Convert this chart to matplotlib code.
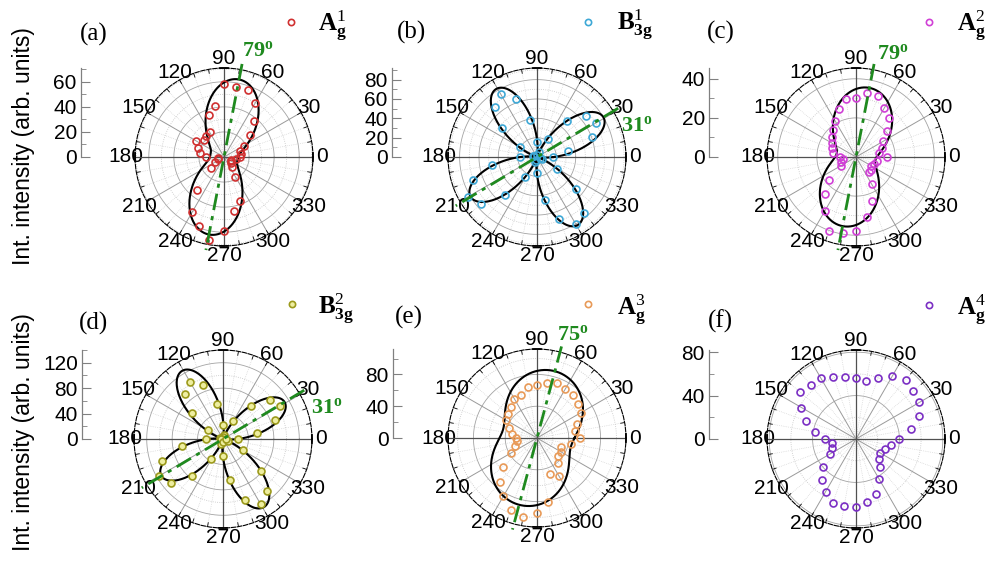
import numpy as np
import matplotlib.pyplot as plt
from matplotlib.ticker import FixedLocator, MultipleLocator

plt.rcParams['font.family'] = ['Liberation Sans', 'DejaVu Sans']
plt.rcParams['mathtext.fontset'] = 'custom'
plt.rcParams['mathtext.rm'] = 'Liberation Serif'
plt.rcParams['mathtext.bf'] = 'Liberation Serif:bold'
plt.rcParams['mathtext.it'] = 'Liberation Serif:italic'

# polarisation angle of the measured points (deg)
angles = np.arange(0, 360, 10)

# integrated intensities, one value per angle
int_a = [13, 14, 14, 18, 27, 37, 50, 57, 57, 58, 41, 36, 23, 22, 21, 26, 22, 19.5,
         14.6, 4.6, 5, 8, 14, 34, 51, 59, 67, 59, 44, 37, 18, 10, 7, 6, 6, 9.5]
int_b = [17, 33, 61, 71, 66, 48, 22, 5, 2, 16, 39, 64, 75, 68, 47, 20, 4, 3,
         18, 47, 70, 82, 75, 51, 24, 6, 3, 17, 45, 68, 80, 75, 52, 24, 5, 3]
int_c = [16, 12, 14, 16, 21, 26, 29, 33, 33, 30, 30, 26, 21, 18, 16, 14, 13, 12,
         8, 7, 8, 9, 18, 25, 32, 40, 39.5, 38, 31, 24, 16, 10, 10, 9, 10, 11]
int_d = [24, 55, 87, 103, 96, 68, 33, 6, 3, 22, 56, 90, 104, 93, 63, 28, 5, 3,
         26, 66, 102, 116, 107, 76, 37, 8, 4, 27, 66, 102, 118, 107, 78, 36, 8, 4]
int_e = [54, 48, 53, 64, 67, 70, 71, 73, 70, 67, 65, 58, 57, 51, 47, 45, 38, 32,
         27, 25, 30, 38, 56, 73, 85, 96, 101, 95, 82, 48, 55, 41, 35, 35, 32, 43]
int_f = [40, 51, 62, 67.5, 69, 71, 67, 60, 54, 56, 58, 61, 65, 65, 67, 58, 49, 38,
         29, 22, 24, 28, 40, 49, 56, 63, 63, 63, 59, 54, 43, 34, 28, 26, 28, 33]

# fit parameters: orientation angle, |a|^2, |c|^2, cross term
fit_a = (79, 63, 11, 14)
fit_b = (31, 80, 82, -81)
fit_c = (79, 36, 10, 19)
fit_d = (31, 113, 125, -119)
fit_e = (75, 87, 44, 68)

mode_labels = [r'$\mathbf{A}_{\mathbf{g}}^{1}$', r'$\mathbf{B}_{\mathbf{3g}}^{1}$',
               r'$\mathbf{A}_{\mathbf{g}}^{2}$', r'$\mathbf{B}_{\mathbf{3g}}^{2}$',
               r'$\mathbf{A}_{\mathbf{g}}^{3}$', r'$\mathbf{A}_{\mathbf{g}}^{4}$']
panel_tags = ['(a)', '(b)', '(c)', '(d)', '(e)', '(f)']
r_max = [71, 92, 45.5, 140, 112, 82]
r_major = [[0, 20, 40, 60], [0, 20, 40, 60, 80], [0, 20, 40],
           [0, 40, 80, 120], [0, 40, 80], [0, 40, 80]]
r_minor = [10, 10, 10, 20, 20, 20]

W, H = 993, 569
R = 89
green = '#1f8a1f'


def fit_curve(th_deg, phi, a, c, b):
    psi = np.radians(th_deg - phi)
    c2, s2 = np.cos(psi) ** 2, np.sin(psi) ** 2
    return a * c2 ** 2 + c * s2 ** 2 + 2 * b * c2 * s2


panels = [
    dict(cx=224, cy=157, bar=81, vals=int_a, fit=fit_a, col='#d03030', face='none',
         tag=(94, 34), leg=(291, 22, 318, 31), ann=('left', 'bottom', (0, 2))),
    dict(cx=537, cy=157, bar=392, vals=int_b, fit=fit_b, col='#3ea8d6', face='none',
         tag=(411, 32), leg=(588, 22, 617, 31), ann=('left', 'top', (2, -5))),
    dict(cx=856, cy=157, bar=709, vals=int_c, fit=fit_c, col='#d040d6', face='none',
         tag=(721, 32), leg=(929, 22, 957, 31), ann=('left', 'bottom', (2, 0))),
    dict(cx=223, cy=439, bar=82, vals=int_d, fit=fit_d, col='#9c9a1c', face='#eeeea0',
         tag=(94, 323), leg=(292, 304, 318, 315), ann=('left', 'top', (5, -5))),
    dict(cx=537, cy=438, bar=393, vals=int_e, fit=fit_e, col='#e89a58', face='none',
         tag=(409, 317), leg=(588, 304, 617, 315), ann=('left', 'bottom', (-3, 1))),
    dict(cx=856, cy=439, bar=709, vals=int_f, fit=None, col='#7b2fc4', face='none',
         tag=(720, 321), leg=(929, 305, 957, 315), ann=None),
]

fig = plt.figure(figsize=(W / 100, H / 100), dpi=100)
th_full = np.linspace(0, 2 * np.pi, 361)

for i, p in enumerate(panels):
    cx, cy, rm = p['cx'], p['cy'], r_max[i]
    ax = fig.add_axes([(cx - R) / W, 1 - (cy + R) / H, 2 * R / W, 2 * R / H],
                      projection='polar')
    ax.grid(False)

    # grid circles
    minors = np.arange(r_minor[i], rm, r_minor[i])
    for r in minors:
        if r in r_major[i]:
            ax.plot(th_full, np.full_like(th_full, r), color='#a3a3a3', lw=0.6, zorder=1)
        else:
            ax.plot(th_full, np.full_like(th_full, r), color='#c4c4c4', lw=0.6,
                    ls=':', zorder=1)
    # spokes
    for ang in range(0, 360, 10):
        t = np.radians(ang)
        if ang % 90 == 0:
            continue
        if ang % 30 == 0:
            ax.plot([t, t], [0, rm], color='#9a9a9a', lw=0.7, zorder=1)
        else:
            ax.plot([t, t], [0, rm], color='#cccccc', lw=0.5, ls=':', zorder=1)
        ax.plot([t, t], [0.955 * rm, rm], color='k', lw=0.6, zorder=2)
    for ang in (0, 90):
        t = np.radians(ang)
        ax.plot([t, t, t + np.pi], [rm, 0, rm], color='#505050', lw=0.9, zorder=2)
    for ang in (0, 90, 180, 270):
        t = np.radians(ang)
        ax.plot(np.linspace(t - 0.045, t + 0.045, 5), [rm] * 5, color='k', lw=1.3,
                zorder=2, clip_on=False)

    ax.spines['polar'].set_linestyle((0, (4, 1.5)))
    ax.spines['polar'].set_linewidth(0.8)

    if p['fit'] is not None:
        phi = p['fit'][0]
        th = np.arange(0, 360.5, 0.5)
        ax.plot(np.radians(th), fit_curve(th, *p['fit']), color='k', lw=1.5, zorder=3)
        L = 1.065 * rm
        ax.plot(np.radians([phi, phi, phi + 180]), [L, 0, L], color=green, lw=2,
                ls=(0, (6, 2.2, 1.5, 2.2)), clip_on=False, zorder=5)
        ha, va, off = p['ann']
        ax.annotate(r'$\mathbf{%d^o}$' % phi, xy=(np.radians(phi), L), xytext=off,
                    textcoords='offset points', ha=ha, va=va, color=green,
                    fontsize=16, annotation_clip=False, zorder=6)

    ax.plot(np.radians(angles), p['vals'], 'o', mfc=p['face'], mec=p['col'], ms=5,
            mew=1.2, clip_on=False, zorder=4)

    ax.set_ylim(0, rm)
    ax.set_yticks([])
    ax.set_thetagrids(range(0, 360, 30), [str(a) for a in range(0, 360, 30)])
    ax.tick_params(axis='x', labelsize=15, pad=-4)

    # radial scale bar
    bx = fig.add_axes([p['bar'] / W, 1 - cy / H, 12 / W, R / H])
    bx.patch.set_visible(False)
    for s in ('top', 'right', 'bottom'):
        bx.spines[s].set_visible(False)
    bx.spines['left'].set_color('#808080')
    bx.spines['left'].set_linewidth(0.9)
    bx.set_xticks([])
    bx.set_ylim(0, rm)
    bx.yaxis.set_major_locator(FixedLocator(r_major[i]))
    bx.yaxis.set_minor_locator(MultipleLocator(r_minor[i]))
    bx.tick_params(axis='y', which='major', direction='in', length=6.5, width=0.8,
                   color='#808080', labelsize=15, pad=3)
    bx.tick_params(axis='y', which='minor', direction='in', length=3.5, width=0.7,
                   color='#909090')

    # panel tag and mode legend
    fig.text(p['tag'][0] / W, 1 - p['tag'][1] / H, panel_tags[i], ha='center',
             va='center', fontsize=18, family='Liberation Serif')
    mx, my, tx, ty = p['leg']
    fig.add_artist(plt.Line2D([mx / W], [1 - my / H], marker='o', ms=4.5, mew=1.2,
                              mfc=p['face'], mec=p['col'], transform=fig.transFigure))
    fig.text(tx / W, 1 - ty / H, mode_labels[i], ha='left', va='baseline', fontsize=18)

for yc in (146, 432):
    fig.text(24 / W, 1 - yc / H, 'Int. intensity (arb. units)', rotation=90,
             ha='center', va='center', fontsize=16.5)

fig.savefig('out.png', dpi=100)
